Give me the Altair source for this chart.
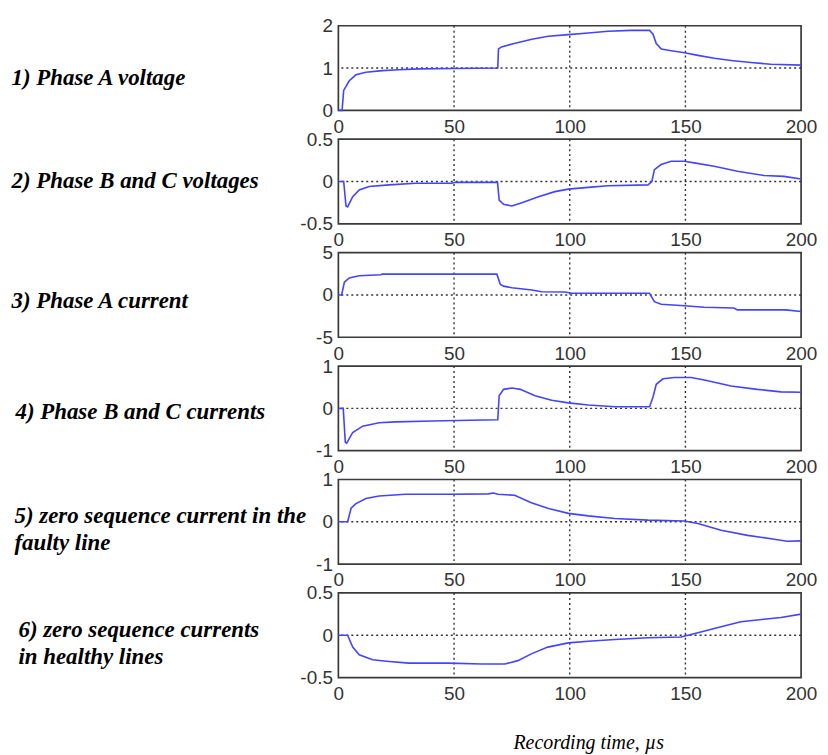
import altair as alt
import pandas as pd

# ---------------- data ----------------
X_TICKS = [0, 50, 100, 150, 200]

titles = [
    "1) Phase A voltage",
    "2) Phase B and C voltages",
    "3) Phase A current",
    "4) Phase B and C currents",
    ["5) zero sequence current in the", "faulty line"],
    ["6) zero sequence currents", "in healthy lines"],
]
y_ticks = [[0, 1, 2], [-0.5, 0, 0.5], [-5, 0, 5], [-1, 0, 1], [-1, 0, 1], [-0.5, 0, 0.5]]

t1 = [0, 1.6, 2.3, 4.7, 7.6, 11.9, 19, 26, 35, 50, 68.9, 69.2, 70.5, 76, 83.6, 90.7, 99.4, 108, 116.6,
      126.6, 134.5, 136, 137.4, 139.6, 143.9, 149.6, 155.4, 162.5, 169.7, 178.3, 186.9, 200]
v1 = [0, 0, 0.47, 0.70, 0.84, 0.90, 0.94, 0.96, 0.98, 0.99, 1.0, 1.45, 1.50, 1.58, 1.68, 1.75, 1.79,
      1.83, 1.87, 1.89, 1.89, 1.80, 1.58, 1.45, 1.41, 1.36, 1.30, 1.23, 1.18, 1.13, 1.09, 1.07]

t2 = [0, 2.3, 3.3, 4.0, 6.2, 9, 13.3, 21.9, 33.4, 49, 50.6, 68.8, 69.5, 71.4, 75, 79.3, 86.5, 93.6, 99.4,
      108, 116.6, 133.8, 135.5, 136.6, 139.5, 143.8, 149.5, 153.8, 162.4, 172.5, 184, 192.6, 200]
v2 = [0, 0, -0.29, -0.30, -0.18, -0.10, -0.06, -0.04, -0.02, -0.02, -0.01, -0.01, -0.22, -0.27, -0.29,
      -0.25, -0.18, -0.12, -0.09, -0.07, -0.05, -0.04, 0.0, 0.14, 0.20, 0.24, 0.24, 0.22, 0.18, 0.12,
      0.07, 0.06, 0.03]

t3 = [0, 1.4, 2.6, 4.7, 9, 18.4, 19, 68.5, 70, 71.4, 75, 83.6, 87.9, 98, 100.9, 134.5, 136.6, 139.5,
      149.5, 158.1, 171, 172.5, 193.3, 200]
v3 = [0, 0, 1.5, 2.0, 2.27, 2.38, 2.46, 2.46, 1.23, 1.04, 0.85, 0.58, 0.38, 0.35, 0.19, 0.19, -0.8,
      -1.1, -1.27, -1.46, -1.54, -1.77, -1.77, -1.96]

t4 = [0, 2.1, 3.0, 3.6, 6.2, 10.5, 17.6, 24.8, 40.6, 57, 68.9, 69.5, 71.4, 75, 78.6, 85, 92.2, 99.4, 108,
      119.5, 134.5, 136, 137.4, 140.3, 145.3, 152.5, 158.2, 169.7, 181, 191.3, 200]
v4 = [0, 0, -0.80, -0.82, -0.57, -0.42, -0.34, -0.32, -0.30, -0.28, -0.27, 0.30, 0.45, 0.48, 0.45,
      0.30, 0.19, 0.13, 0.08, 0.04, 0.04, 0.27, 0.57, 0.70, 0.73, 0.73, 0.67, 0.53, 0.45, 0.39, 0.38]

t5 = [0, 4, 5.5, 7.6, 11.9, 17.6, 29, 47.6, 64.8, 67, 69, 76.2, 83.4, 90.5, 99.4, 108, 119.5, 133.8,
      149.5, 155.4, 165.4, 176.9, 187, 194, 200]
v5 = [0, 0, 0.32, 0.43, 0.55, 0.61, 0.65, 0.65, 0.66, 0.68, 0.65, 0.63, 0.45, 0.32, 0.20, 0.14, 0.08,
      0.04, 0.02, -0.04, -0.20, -0.32, -0.40, -0.46, -0.45]

t6 = [0, 4, 6.2, 9, 14.8, 21.9, 30.5, 47.6, 62, 72, 77.6, 83.4, 90.5, 99.4, 108, 119.5, 133.8, 148.1,
      155.4, 165.4, 174, 184, 191.3, 200]
v6 = [0, 0, -0.14, -0.23, -0.29, -0.31, -0.33, -0.33, -0.34, -0.34, -0.30, -0.22, -0.14, -0.09, -0.07,
      -0.05, -0.03, -0.02, 0.03, 0.10, 0.16, 0.19, 0.21, 0.25]

series = [(t1, v1), (t2, v2), (t3, v3), (t4, v4), (t5, v5), (t6, v6)]
title_x = [-329, -329, -329, -325, -326, -322]
title_y = [52, 42, 48, 46, 36, 37]

LINE_COLOR = "#4444ff"
GRID_COLOR = "#333333"
TICK_FONT = "Liberation Sans Narrow, Liberation Sans, Arial, sans-serif"


def panel(i):
    t, v = series[i]
    yt = y_ticks[i]
    df = pd.DataFrame({"t": t, "v": v})
    xs = alt.Scale(domain=[0, 200], nice=False, zero=False)
    ys = alt.Scale(domain=[yt[0], yt[2]], nice=False, zero=False)

    xaxis_kw = dict(values=X_TICKS, ticks=False, domain=False, grid=False, labelPadding=7,
                    labelFlush=False, labelOverlap=False, format="d")
    if i == 5:
        xaxis_kw.update(title="Recording time, µs", titleFont="Liberation Serif", titleFontSize=20,
                        titleFontStyle="italic", titleFontWeight="normal", titleColor="black",
                        titleX=251, titleY=65, titleBaseline="middle")
    else:
        xaxis_kw.update(title="")
    xaxis = alt.Axis(**xaxis_kw)

    yaxis = alt.Axis(values=yt, ticks=False, domain=False, grid=False, labelPadding=6,
                     labelFlush=False, labelOverlap=False, labelExpr="datum.value + ''",
                     title=titles[i], titleAngle=0, titleAlign="left", titleBaseline="middle",
                     titleX=title_x[i], titleY=title_y[i], titleFont="Liberation Serif",
                     titleFontSize=23, titleFontStyle="italic", titleFontWeight="bold",
                     titleColor="black", titleLineHeight=27, titleLimit=400)

    gx = alt.Chart(pd.DataFrame({"g": X_TICKS[1:4]})).mark_rule(
        strokeDash=[2, 3], color=GRID_COLOR, strokeWidth=1.4
    ).encode(x=alt.X("g:Q", scale=xs, axis=xaxis))
    gy = alt.Chart(pd.DataFrame({"g": [yt[1]]})).mark_rule(
        strokeDash=[2, 3], color=GRID_COLOR, strokeWidth=1.4
    ).encode(y=alt.Y("g:Q", scale=ys, axis=yaxis))
    line = alt.Chart(df).mark_line(color=LINE_COLOR, strokeWidth=1.6).encode(
        x=alt.X("t:Q", scale=xs, axis=xaxis),
        y=alt.Y("v:Q", scale=ys, axis=yaxis),
    )
    return alt.layer(gx, gy, line).properties(width=465, height=85)


chart = alt.vconcat(*[panel(i) for i in range(6)], spacing=29, bounds="flush").properties(
    padding={"left": 2, "top": 6, "right": 2, "bottom": 2}
).configure_view(
    stroke="#3a3a3a", strokeWidth=1.7
).configure_axis(
    labelFont=TICK_FONT, labelFontSize=19, labelColor="#333333"
)

chart.save("out.html", embed_options={"renderer": "svg", "actions": False})
